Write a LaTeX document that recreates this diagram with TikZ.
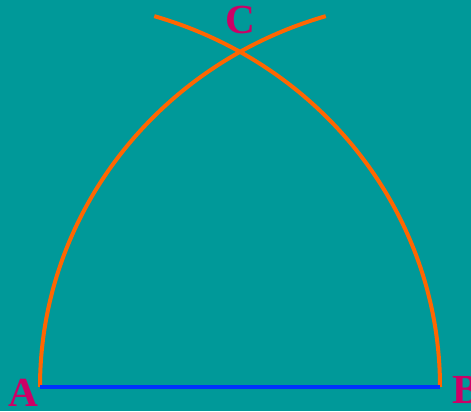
\documentclass[tikz,border=0pt]{standalone}
\usepackage{fontspec}
\setmainfont{Liberation Serif}
\definecolor{bgteal}{RGB}{0,153,153}
\definecolor{arcorange}{RGB}{255,102,0}
\definecolor{segblue}{RGB}{0,51,255}
\definecolor{labmag}{RGB}{204,0,102}
\begin{document}
\begin{tikzpicture}[x=0.75pt,y=0.75pt,
  arcline/.style={draw=arcorange,line width=3pt},
  segline/.style={draw=segblue,line width=3pt},
  ptlabel/.style={text=labmag,font=\fontsize{31}{31}\selectfont\bfseries,inner sep=0pt}]
\fill[bgteal] (0,0) rectangle (471,411);
\useasboundingbox (0,0) rectangle (471,411);
\coordinate (A) at (40,24);
\coordinate (B) at (440,24);
\draw[arcline] (A) arc[start angle=180,end angle=106.6,x radius=400,y radius=387];
\draw[arcline] (B) arc[start angle=0,end angle=73.4,x radius=400,y radius=387];
\draw[segline] (A) -- (B);
\node[ptlabel] (lA) at (23,18) {A};
\node[ptlabel] (lB) at (466,21) {B};
\node[ptlabel] (lC) at (240,391) {C};
\end{tikzpicture}
\end{document}
